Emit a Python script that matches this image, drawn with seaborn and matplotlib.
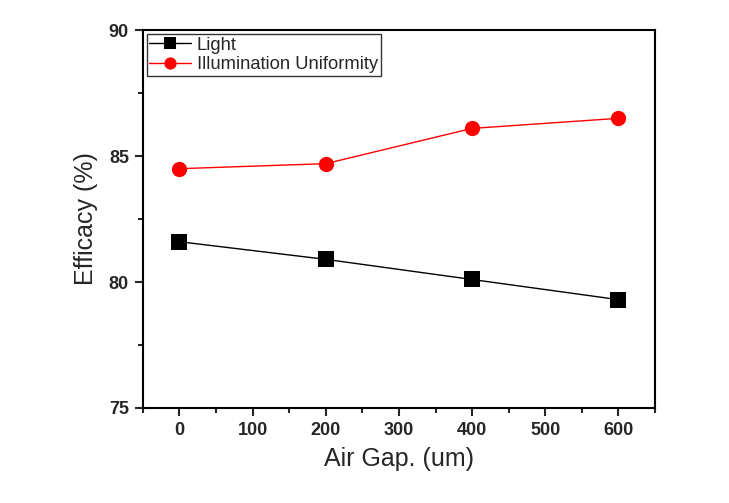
import matplotlib
matplotlib.use("Agg")
import matplotlib.pyplot as plt
import seaborn as sns
import pandas as pd
from matplotlib.ticker import MultipleLocator

air_gap = [0, 200, 400, 600]
light = [81.6, 80.9, 80.1, 79.3]
uniformity = [84.5, 84.7, 86.1, 86.5]
series_names = ["Light", "Illumination Uniformity"]

df = pd.DataFrame({
    "gap": air_gap * 2,
    "value": light + uniformity,
    "series": [series_names[0]] * 4 + [series_names[1]] * 4,
})

sns.set_style("white")
plt.rcParams["font.family"] = ["Liberation Sans", "DejaVu Sans"]

fig = plt.figure(figsize=(7.29, 5.03), dpi=100)
ax = fig.add_axes([0.196, 0.189, 0.7025, 0.751])

sns.lineplot(data=df, x="gap", y="value", hue="series", style="series",
             palette={"Light": "black", "Illumination Uniformity": "red"},
             markers={"Light": "s", "Illumination Uniformity": "o"},
             dashes=False, markersize=11, linewidth=1, markeredgewidth=0,
             ax=ax)

ax.set_xlim(-50, 650)
ax.set_ylim(75, 90)
ax.xaxis.set_major_locator(MultipleLocator(100))
ax.xaxis.set_minor_locator(MultipleLocator(50))
ax.yaxis.set_major_locator(MultipleLocator(5))
ax.yaxis.set_minor_locator(MultipleLocator(2.5))
ax.tick_params(which="major", direction="out", length=6, width=1.5, bottom=True, left=True,
               labelsize=13, pad=4)
ax.tick_params(which="minor", direction="out", length=3.5, width=1.5, bottom=True, left=True)
for lab in ax.get_xticklabels() + ax.get_yticklabels():
    lab.set_fontweight("bold")
for sp in ax.spines.values():
    sp.set_linewidth(1.5)
    sp.set_color("black")

ax.set_xlabel("Air Gap. (um)", fontsize=18, labelpad=6)
ax.set_ylabel("Efficacy (%)", fontsize=18, labelpad=8)

leg = ax.legend(loc="upper left", fontsize=13.2, frameon=True, fancybox=False,
                edgecolor="black", borderpad=0.15, handlelength=2.3,
                handletextpad=0.3, labelspacing=0.15, borderaxespad=0.2,
                markerscale=0.8)
leg.get_frame().set_linewidth(1)

fig.savefig("out.png", dpi=100)
